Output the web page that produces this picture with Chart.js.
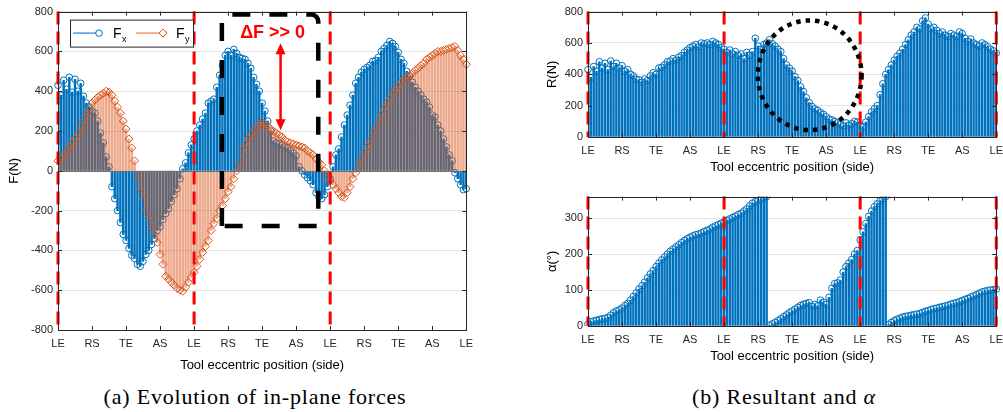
<!DOCTYPE html>
<html>
<head>
<meta charset="utf-8">
<script src="https://cdn.jsdelivr.net/npm/chart.js@4.4.0/dist/chart.umd.min.js"></script>
<style>
  body { margin:0; width:1003px; height:412px; overflow:hidden; background:#fff; position:relative; }
  .box { position:absolute; }
  .cap { position:absolute; font-family:'Liberation Serif', serif; font-size:22px; letter-spacing:0.8px; color:#000; white-space:nowrap; transform:translate(-50%,-50%); }
</style>
</head>
<body>
<div class="box" style="left:0;top:0;width:480px;height:380px"><canvas id="forces"></canvas></div>
<div class="box" style="left:540px;top:0;width:470px;height:180px"><canvas id="resultant"></canvas></div>
<div class="box" style="left:540px;top:185px;width:470px;height:185px"><canvas id="alpha"></canvas></div>
<div class="cap" style="left:255px;top:397px">(a) Evolution of in-plane forces</div>
<div class="cap" style="left:784px;top:397px">(b) Resultant and <i>α</i></div>
<script>
// tool side labels along the x axis, one every samplesPerSide samples
const sideTicks = ['LE','RS','TE','AS','LE','RS','TE','AS','LE','RS','TE','AS','LE'];
const samplesPerSide = 12;

const forceX = [
  430, 380, 455, 410, 470, 395, 460, 400, 440, 375, 340, 320,
  300, 290, 250, 190, 140, 70, 20, -80, -140, -200, -260, -320,
  -350, -390, -425, -440, -470, -480, -455, -420, -400, -370, -340, -300,
  -280, -245, -215, -190, -155, -120, -90, -40, 10, 40, 90, 130,
  160, 200, 230, 260, 290, 340, 350, 360, 420, 480, 530, 580,
  600, 580, 610, 590, 570, 565, 560, 540, 515, 470, 435, 400,
  340, 300, 250, 200, 150, 140, 135, 130, 120, 115, 100, 90,
  75, 20, 0, -20, -35, -50, -70, -110, -130, -140, -120, -80,
  -40, 20, 80, 110, 170, 230, 280, 330, 380, 440, 470, 495,
  510, 520, 530, 550, 555, 570, 600, 615, 630, 650, 640, 625,
  595, 560, 540, 500, 475, 445, 420, 400, 380, 360, 345, 320,
  280, 270, 230, 200, 160, 120, 80, 50, -10, -40, -70, -95,
  -90
];
const forceY = [
  50, 60, 80, 100, 120, 140, 160, 185, 220, 250, 285, 305,
  340, 355, 370, 380, 390, 400, 395, 380, 350, 320, 290, 250,
  210, 160, 115, 50, -35, -90, -140, -200, -240, -285, -320, -360,
  -420, -470, -530, -545, -560, -575, -590, -600, -605, -585, -560, -535,
  -510, -480, -445, -410, -380, -350, -300, -265, -240, -200, -175, -140,
  -105, -80, -40, 0, 40, 100, 130, 160, 180, 200, 220, 235,
  245, 235, 225, 210, 200, 190, 180, 170, 155, 145, 140, 135,
  130, 125, 120, 115, 100, 90, 80, 60, 45, 30, 0, -25,
  -50, -70, -90, -110, -130, -135, -110, -80, -40, -10, 30, 60,
  90, 120, 150, 190, 215, 250, 280, 310, 340, 360, 390, 410,
  425, 445, 460, 470, 480, 490, 505, 515, 530, 540, 560, 570,
  580, 590, 600, 600, 605, 610, 615, 620, 625, 605, 580, 560,
  535
];
const resultant = [
  430, 380, 450, 420, 480, 440, 470, 430, 485, 450, 470, 440,
  455, 420, 430, 400, 390, 370, 365, 350, 370, 360, 390, 410,
  400, 440, 445, 460, 480, 485, 500, 490, 510, 520, 540, 555,
  570, 580, 590, 575, 600, 595, 600, 590, 610, 600, 590, 570,
  560, 540, 555, 530, 545, 520, 530, 500, 540, 520, 545, 630,
  580, 560, 590, 600, 620, 595, 580, 560, 545, 500, 460, 440,
  420, 385, 360, 320, 290, 250, 220, 195, 180, 170, 155, 145,
  130, 115, 110, 100, 90, 80, 70, 90, 75, 85, 100, 95,
  75, 65, 95, 130, 160, 180, 200, 270, 340, 400, 430, 460,
  490, 515, 535, 560, 590, 620, 650, 670, 700, 690, 740, 760,
  720, 690, 700, 680, 660, 670, 650, 640, 660, 650, 640, 670,
  660, 630, 610, 625, 600, 590, 580, 600, 590, 575, 560, 550,
  535
];
const alphaDeg = [
  5, 12, 14, 16, 18, 20, 21, 24, 30, 37, 42, 45,
  50, 57, 63, 72, 82, 92, 103, 112, 122, 134, 145, 154,
  165, 175, 184, 192, 200, 208, 214, 220, 226, 232, 238, 243,
  247, 251, 254, 256, 259, 263, 266, 270, 275, 279, 282, 286,
  290, 294, 298, 302, 306, 310, 314, 320, 326, 334, 342, 346,
  350, 353, 356, 360, 2, 6, 10, 15, 20, 26, 31, 37,
  42, 47, 52, 57, 61, 63, 65, 55, 60, 56, 72, 66,
  60, 80, 105, 118, 120, 128, 150, 165, 175, 185, 200, 210,
  240, 262, 285, 305, 320, 332, 340, 348, 354, 360, 4, 10,
  15, 19, 22, 25, 27, 28, 30, 32, 33, 35, 38, 41,
  43, 46, 48, 50, 52, 54, 56, 58, 61, 63, 65, 68,
  71, 74, 77, 81, 84, 87, 91, 95, 97, 99, 100, 101,
  103
];
// sample indices where the red dashed LE markers are drawn
const leMarksA = [0, 48, 96];
const leMarksB = [0, 48, 96, 144];

const BLUE = '#0072BD';
const ORANGE = '#D95319';
const GRID = '#e3e3e3';
const AXIS = '#262626';
const FONT = 'Liberation Sans';

const framePlugin = {
  id: 'frame',
  afterDatasetsDraw(chart, args, opts) {
    const {ctx, chartArea: a, scales: {x, y}} = chart;
    ctx.save();
    if (y.min < 0) {
      const y0 = Math.round(y.getPixelForValue(0)) + 0.5;
      ctx.strokeStyle = '#707070';
      ctx.lineWidth = 1;
      ctx.beginPath(); ctx.moveTo(a.left, y0); ctx.lineTo(a.right, y0); ctx.stroke();
    }
    // red dashed LE markers
    ctx.strokeStyle = '#ff0000';
    ctx.lineWidth = 3;
    ctx.setLineDash([13, 7]);
    (opts.marks || []).forEach(m => {
      const px = x.getPixelForValue(m);
      ctx.beginPath(); ctx.moveTo(px, a.top); ctx.lineTo(px, a.bottom); ctx.stroke();
    });
    ctx.setLineDash([]);
    // box and inward ticks
    ctx.strokeStyle = AXIS;
    ctx.lineWidth = 1;
    ctx.strokeRect(Math.round(a.left) + 0.5, Math.round(a.top) + 0.5, Math.round(a.width), Math.round(a.height));
    ctx.beginPath();
    for (let i = 0; i < sideTicks.length; i++) {
      const px = Math.round(x.getPixelForValue(i * samplesPerSide)) + 0.5;
      ctx.moveTo(px, a.bottom); ctx.lineTo(px, a.bottom - 4);
      ctx.moveTo(px, a.top); ctx.lineTo(px, a.top + 4);
    }
    y.ticks.forEach(t => {
      const py = Math.round(y.getPixelForValue(t.value)) + 0.5;
      ctx.moveTo(a.left, py); ctx.lineTo(a.left + 4, py);
      ctx.moveTo(a.right, py); ctx.lineTo(a.right - 4, py);
    });
    ctx.stroke();
    ctx.restore();
  }
};

function stem(values, color, barColor, marker, radius, order) {
  return [
    { type: 'line', data: values, showLine: false, pointStyle: marker, pointRadius: radius,
      pointBorderColor: color, pointBackgroundColor: 'rgba(0,0,0,0)', pointBorderWidth: 1, order: order },
    { type: 'bar', data: values, backgroundColor: barColor, barThickness: 1.8, grouped: false, order: order + 1 }
  ];
}

function makeChart(id, datasets, yOpts, yTitle, box, extra) {
  return new Chart(document.getElementById(id), {
    type: 'bar',
    data: { labels: datasets[0].data.map((v, i) => i), datasets: datasets },
    options: {
      responsive: true, maintainAspectRatio: false, animation: false,
      layout: { padding: box.pad },
      plugins: { legend: { display: false }, tooltip: { enabled: false }, frame: { marks: box.marks } },
      scales: {
        x: {
          type: 'category', offset: false,
          grid: { offset: false, drawTicks: false,
                  color: c => (c.index % samplesPerSide === 0 ? GRID : 'rgba(0,0,0,0)') },
          border: { display: false },
          ticks: { autoSkip: false, maxRotation: 0, padding: 7, color: AXIS, font: { family: FONT, size: 11 },
                   callback: (v, i) => (i % samplesPerSide === 0 ? sideTicks[i / samplesPerSide] : null) },
          title: { display: true, text: 'Tool eccentric position (side)', color: '#000',
                   font: { family: FONT, size: 13 }, padding: { top: 0, bottom: box.titlePad } },
          afterFit: s => { s.height = box.xh; }
        },
        y: Object.assign({
          grid: { color: GRID, drawTicks: false },
          border: { display: false },
          title: { display: true, text: yTitle, color: '#000', font: { family: FONT, size: 13 },
                   padding: { top: box.yTitlePad, bottom: 0 } },
          afterFit: s => { s.width = box.yw; }
        }, yOpts)
      }
    },
    plugins: [framePlugin].concat(extra || [])
  });
}

const yTicks = (step) => ({ stepSize: step, padding: 5, color: AXIS, font: { family: FONT, size: 11 }, includeBounds: false });

// annotations of panel (a)
const forceNotes = {
  id: 'forceNotes',
  afterDraw(chart) {
    const {ctx, chartArea: a, scales: {x, y}} = chart;
    ctx.save();
    // dashed box over the loaded zone
    const l = x.getPixelForValue(57.8), r = x.getPixelForValue(91.8);
    const t = y.getPixelForValue(785), b = y.getPixelForValue(-278);
    ctx.strokeStyle = '#000'; ctx.lineWidth = 4.5; ctx.setLineDash([18, 19]);
    ctx.beginPath();
    ctx.moveTo(l, b); ctx.lineTo(l, t); ctx.lineTo(r - 7, t);
    ctx.arcTo(r, t, r, t + 7, 7); ctx.lineTo(r, b); ctx.lineTo(l, b);
    ctx.stroke();
    ctx.setLineDash([]);
    // double arrow
    const ax = x.getPixelForValue(78.5), y1 = y.getPixelForValue(641), y2 = y.getPixelForValue(204);
    ctx.strokeStyle = '#ff0000'; ctx.fillStyle = '#ff0000'; ctx.lineWidth = 2.5;
    ctx.beginPath(); ctx.moveTo(ax, y1 + 8); ctx.lineTo(ax, y2 - 8); ctx.stroke();
    ctx.beginPath(); ctx.moveTo(ax, y1); ctx.lineTo(ax - 5, y1 + 11); ctx.lineTo(ax + 5, y1 + 11); ctx.closePath(); ctx.fill();
    ctx.beginPath(); ctx.moveTo(ax, y2); ctx.lineTo(ax - 5, y2 - 11); ctx.lineTo(ax + 5, y2 - 11); ctx.closePath(); ctx.fill();
    ctx.font = 'bold 18px ' + FONT; ctx.textAlign = 'center'; ctx.textBaseline = 'middle';
    ctx.fillText('ΔF >> 0', x.getPixelForValue(75.7), y.getPixelForValue(690));
    // legend
    const bx = a.left + 12, by = a.top + 8, bw = 123, bh = 27, ly = by + bh / 2;
    ctx.fillStyle = '#fff'; ctx.fillRect(bx, by, bw, bh);
    ctx.strokeStyle = AXIS; ctx.lineWidth = 1; ctx.strokeRect(bx + 0.5, by + 0.5, bw, bh);
    ctx.lineWidth = 1.5;
    ctx.strokeStyle = '#4f9ad6';
    ctx.beginPath(); ctx.moveTo(bx + 3, ly); ctx.lineTo(bx + 26, ly); ctx.stroke();
    ctx.strokeStyle = BLUE; ctx.lineWidth = 1;
    ctx.beginPath(); ctx.arc(bx + 29, ly, 3.3, 0, Math.PI * 2); ctx.stroke();
    ctx.strokeStyle = '#ec9a74'; ctx.lineWidth = 1.5;
    ctx.beginPath(); ctx.moveTo(bx + 66, ly); ctx.lineTo(bx + 89, ly); ctx.stroke();
    ctx.strokeStyle = ORANGE; ctx.lineWidth = 1;
    ctx.beginPath(); ctx.moveTo(bx + 93, ly - 4); ctx.lineTo(bx + 97, ly); ctx.lineTo(bx + 93, ly + 4); ctx.lineTo(bx + 89, ly); ctx.closePath(); ctx.stroke();
    ctx.fillStyle = '#000'; ctx.textAlign = 'left'; ctx.textBaseline = 'alphabetic';
    ctx.font = '14px ' + FONT;
    ctx.fillText('F', bx + 43, ly + 5); ctx.fillText('F', bx + 106, ly + 5);
    ctx.font = '9px ' + FONT;
    ctx.fillText('x', bx + 52, ly + 9); ctx.fillText('y', bx + 115, ly + 9);
    ctx.restore();
  }
};

// dotted ellipse of panel (b)
const dropNote = {
  id: 'dropNote',
  afterDraw(chart) {
    const {ctx, scales: {x, y}} = chart;
    const cx = x.getPixelForValue(78.2), cy = y.getPixelForValue(394);
    const rx = x.getPixelForValue(78.2 + 18.3) - cx, ry = cy - y.getPixelForValue(394 + 350);
    ctx.save();
    ctx.strokeStyle = '#000'; ctx.lineWidth = 4.5; ctx.setLineDash([4.5, 5]);
    ctx.beginPath(); ctx.ellipse(cx, cy, rx, ry, 0, 0, Math.PI * 2); ctx.stroke();
    ctx.restore();
  }
};

makeChart('forces',
  stem(forceY, ORANGE, 'rgba(217,83,25,0.5)', 'rectRot', 4, 1).concat(stem(forceX, BLUE, BLUE, 'circle', 3.3, 3)),
  { min: -800, max: 800, ticks: yTicks(200) }, 'F(N)',
  { pad: { left: 0, top: 8, right: 11, bottom: 0 }, yw: 58, xh: 50, titlePad: 7, yTitlePad: 7, marks: leMarksA },
  [forceNotes]);

makeChart('resultant',
  stem(resultant, BLUE, BLUE, 'circle', 3.3, 1),
  { min: 0, max: 800, ticks: yTicks(200) }, 'R(N)',
  { pad: { left: 0, top: 8, right: 13, bottom: 0 }, yw: 48, xh: 43, titlePad: 5, yTitlePad: 5, marks: leMarksB },
  [dropNote]);

makeChart('alpha',
  stem(alphaDeg, BLUE, BLUE, 'circle', 3.3, 1),
  { min: 0, max: 360, ticks: yTicks(100) }, 'α(°)',
  { pad: { left: 0, top: 10, right: 13, bottom: 0 }, yw: 48, xh: 44, titlePad: 6, yTitlePad: 5, marks: leMarksB });
</script>
</body>
</html>
